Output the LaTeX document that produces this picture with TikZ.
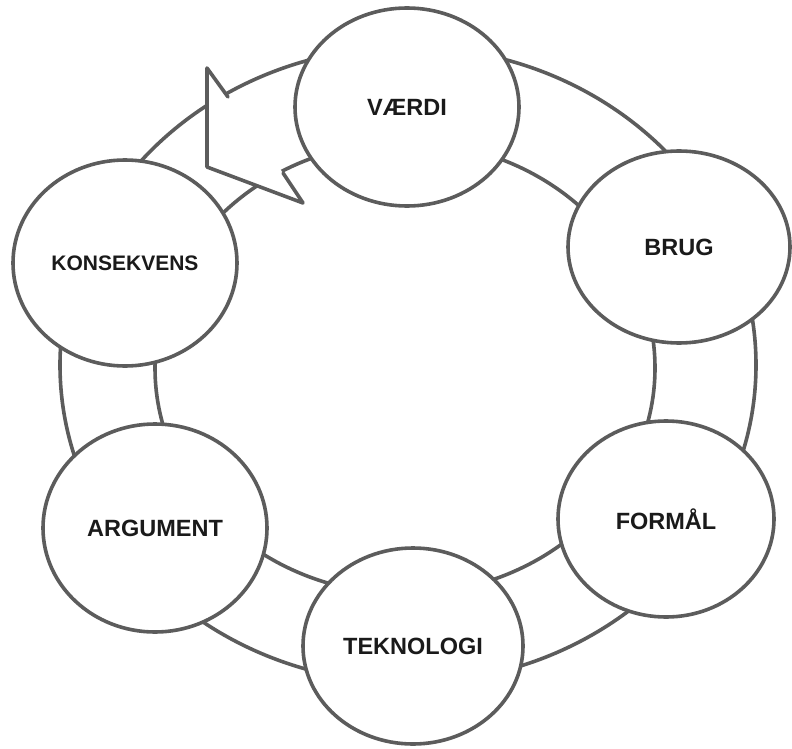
\documentclass[tikz,border=0pt]{standalone}
\usepackage{fontspec}
\setmainfont{Liberation Sans}
\usetikzlibrary{shapes.geometric}
\definecolor{linegray}{HTML}{5C5C5C}
\definecolor{textdark}{HTML}{1A1A1A}
\begin{document}
\begin{tikzpicture}[x=1pt,y=-1pt,
  ink/.style={draw=linegray, line width=3.6pt, line join=round, line cap=round},
  stage/.style={ellipse, ink, fill=white, inner sep=0pt, text=textdark,
    font=\fontsize{23.5}{26}\selectfont\bfseries},
]
\useasboundingbox (0,0) rectangle (792,749);

% the band that carries the cycle
\draw[ink] (408,365) ellipse [x radius=348pt, y radius=318pt];
\draw[ink] (405,368) ellipse [x radius=250pt, y radius=226pt];

% arrowhead laid over the band
\coordinate (notchB) at (228,97);
\coordinate (barbA)  at (207,68);
\coordinate (tip)    at (207,167);
\coordinate (barbE)  at (303,203);
\coordinate (notchG) at (283,173);
\fill[white] (notchB) -- (barbA) -- (tip) -- (barbE) -- (notchG) -- cycle;
\draw[ink] (notchB) -- (barbA) -- (tip) -- (barbE) -- (notchG);

% the six stages
\node[stage, minimum width=224pt, minimum height=198pt] (vaerdi)     at (407,107) {VÆRDI};
\node[stage, minimum width=222pt, minimum height=192pt] (brug)       at (679,247) {BRUG};
\node[stage, minimum width=216pt, minimum height=196pt] (formaal)    at (666,519) {FORMÅL};
\node[stage, minimum width=220pt, minimum height=196pt] (teknologi)  at (413,646) {TEKNOLOGI};
\node[stage, minimum width=224pt, minimum height=208pt] (argument)   at (155,528) {ARGUMENT};
\node[stage, minimum width=224pt, minimum height=206pt,
      font=\fontsize{21}{24}\selectfont\bfseries] (konsekvens) at (125,263) {KONSEKVENS};
\end{tikzpicture}
\end{document}
